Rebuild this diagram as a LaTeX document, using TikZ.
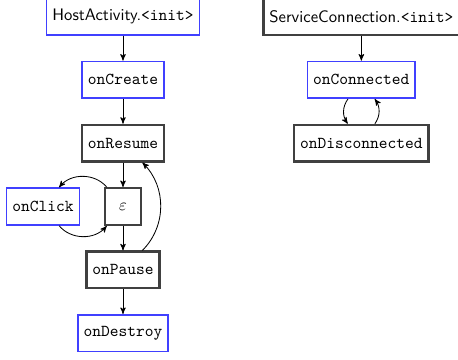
\documentclass[tikz,border=0pt]{standalone}
\usetikzlibrary{arrows,positioning}

\begin{document}
\begin{tikzpicture}[%
    >=stealth',                 % Small arrow tips
    node distance=38pt and 48pt, % Global setup of box spacing
    ]
% -------------------------------------------------
% Box and connector styles
\tikzset{
  base/.style={draw, on grid, align=center, minimum height=22pt, inner xsep=3.5pt},
  entry/.style={base, draw=blue!75, line width=1pt},
  cb/.style={base, draw=black!75, line width=1.3pt},
  link/.style={->, line width=0.5pt}
}
% -------------------------------------------------
% Keep the frame of the reference
\useasboundingbox (-73.8pt,9.9pt) rectangle (201pt,-206.1pt);
% Activity lifecycle
\node [entry] (host) {\textsf{HostActivity.}\texttt{<init>}};
\node [entry, below = of host] (create) {\texttt{onCreate}};
\node [cb, below = of create] (resume) {\texttt{onResume}};
\node [cb, below = of resume, minimum width=22pt] (eps) {$\varepsilon$};
\node [entry, left = of eps] (click) {\texttt{onClick}};
\node [cb, below = of eps] (pause) {\texttt{onPause}};
\node [entry, below = of pause] (destroy) {\texttt{onDestroy}};
% Service connection
\node [cb, right = 143pt of host] (service) {\textsf{ServiceConnection.}\texttt{<init>}};
\node [entry, below = of service] (connected) {\texttt{onConnected}};
\node [cb, below = of connected] (disconnected) {\texttt{onDisconnected}};

\draw[link] (host) to (create);
\draw[link] (create) to (resume);
\draw[link] (resume) to (eps);
\draw[link] (eps) to (pause);
\draw[link] (pause) to (destroy);
\draw[link] (eps) to [bend right=50] (click);
\draw[link] (click) to [bend right=50] (eps);
\draw[link] (pause) to [bend right=45] (resume);

\draw[link] (service) to (connected);
\draw[link] (connected) to [bend right=35] (disconnected);
\draw[link] (disconnected) to [bend right=35] (connected);
% -------------------------------------------------
\end{tikzpicture}
\end{document}
